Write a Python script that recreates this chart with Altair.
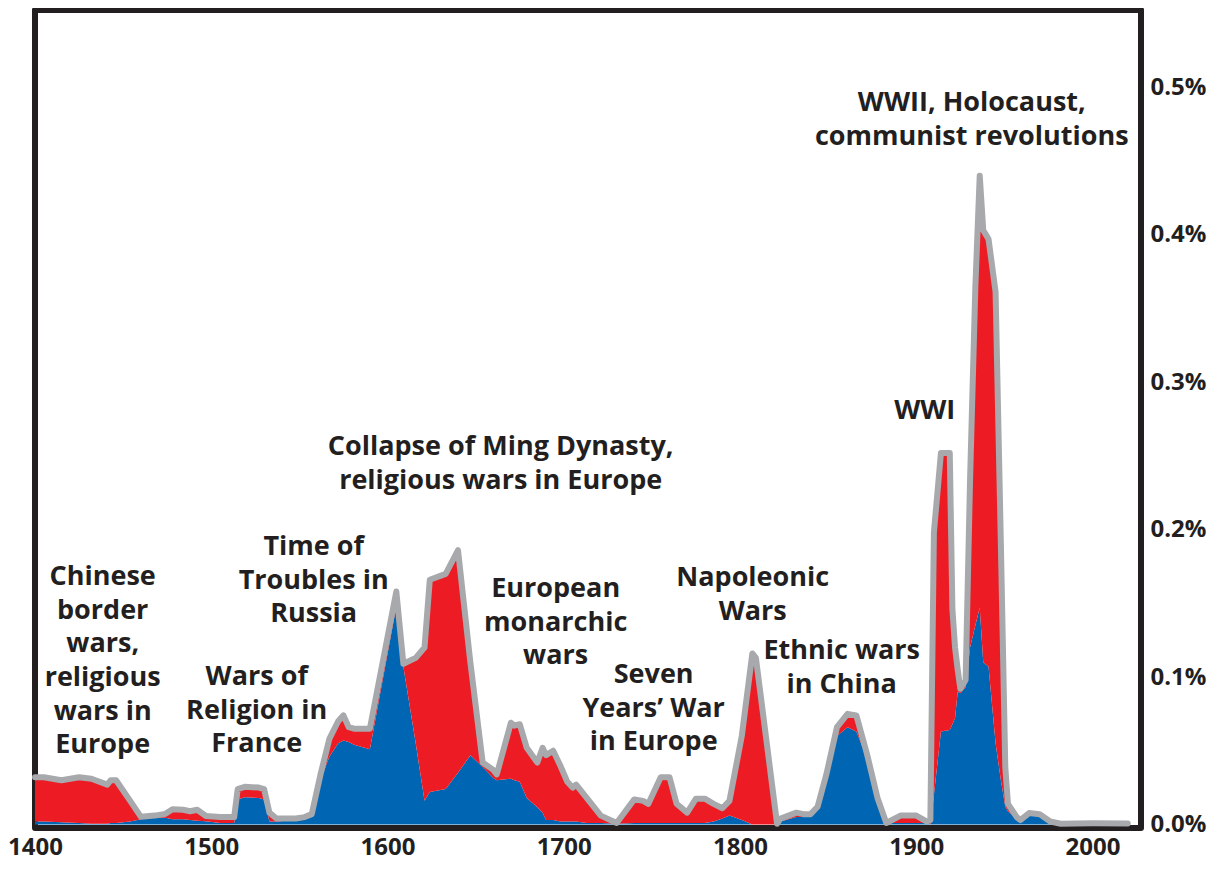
import altair as alt
import pandas as pd

# ---- data (share of world population killed, in %) ----
years = [1400, 1405, 1415, 1425, 1432, 1441, 1443, 1446, 1454, 1460, 1468, 1474,
         1478, 1484, 1488, 1492, 1497, 1505, 1513, 1515, 1519, 1527, 1530, 1533,
         1537, 1548, 1553, 1557, 1562, 1567, 1572, 1575, 1578, 1581, 1590, 1605,
         1609, 1616, 1621, 1624, 1633, 1640, 1647, 1654, 1660, 1662, 1670, 1672,
         1675, 1679, 1685, 1688, 1690, 1694, 1698, 1702, 1705, 1707, 1713, 1721,
         1730, 1740, 1745, 1748, 1755, 1760, 1764, 1770, 1775, 1780, 1785, 1790,
         1794, 1801, 1807, 1809, 1821, 1823, 1832, 1836, 1840, 1844, 1849, 1855,
         1861, 1866, 1872, 1878, 1883, 1891, 1900, 1906, 1908, 1910, 1914, 1919,
         1920.5, 1922, 1923.5, 1925, 1928, 1930.5, 1933.5, 1936, 1938, 1941, 1945,
         1948, 1950.5, 1952, 1957, 1959, 1964, 1970, 1976, 1982, 2000, 2020]

total_share = [0.032, 0.032, 0.030, 0.032, 0.031, 0.027, 0.030, 0.030, 0.016, 0.0053,
               0.006, 0.0072, 0.0103, 0.010, 0.009, 0.010, 0.0057, 0.005, 0.005, 0.024,
               0.0255, 0.025, 0.024, 0.008, 0.004, 0.004, 0.005, 0.007, 0.034, 0.058,
               0.070, 0.074, 0.066, 0.065, 0.065, 0.158, 0.109, 0.113, 0.120, 0.166,
               0.170, 0.186, 0.110, 0.042, 0.037, 0.034, 0.069, 0.067, 0.068, 0.052,
               0.042, 0.052, 0.047, 0.050, 0.040, 0.029, 0.025, 0.027, 0.018, 0.006,
               0.001, 0.017, 0.016, 0.014, 0.032, 0.032, 0.014, 0.008, 0.0175, 0.0175,
               0.014, 0.011, 0.016, 0.060, 0.116, 0.113, 0.0005, 0.004, 0.008, 0.007,
               0.007, 0.012, 0.034, 0.066, 0.075, 0.074, 0.048, 0.018, 0.001, 0.006,
               0.006, 0.002, 0.003, 0.198, 0.252, 0.252, 0.146, 0.120, 0.105, 0.092,
               0.098, 0.233, 0.364, 0.440, 0.403, 0.397, 0.361, 0.190, 0.039, 0.014,
               0.005, 0.003, 0.0077, 0.007, 0.002, 0.0005, 0.0008, 0.0007]

blue_share = [0.002, 0.002, 0.0015, 0.001, 0.0005, 0.0005, 0.001, 0.001, 0.002, 0.0035,
              0.0045, 0.0045, 0.0035, 0.0035, 0.003, 0.0025, 0.0022, 0.001, 0.001, 0.017,
              0.0185, 0.018, 0.017, 0.002, 0.002, 0.003, 0.004, 0.005, 0.030, 0.046,
              0.055, 0.057, 0.056, 0.054, 0.051, 0.148, 0.107, 0.055, 0.016, 0.022,
              0.024, 0.035, 0.047, 0.039, 0.0315, 0.030, 0.031, 0.030, 0.029, 0.018,
              0.0117, 0.008, 0.003, 0.003, 0.002, 0.002, 0.002, 0.002, 0.001, 0.001,
              0.0005, 0.001, 0.001, 0.001, 0.001, 0.001, 0.001, 0.001, 0.001, 0.001,
              0.002, 0.004, 0.006, 0.003, 0.0, 0.0, 0.0, 0.002, 0.005, 0.005,
              0.006, 0.011, 0.030, 0.060, 0.066, 0.063, 0.045, 0.016, 0.001, 0.001,
              0.001, 0.001, 0.0, 0.020, 0.063, 0.064, 0.068, 0.072, 0.090, 0.089,
              0.093, 0.120, 0.135, 0.147, 0.110, 0.107, 0.055, 0.030, 0.012, 0.009,
              0.004, 0.003, 0.0075, 0.0068, 0.002, 0.0005, 0.0008, 0.0007]

x_ticks = [1400, 1500, 1600, 1700, 1800, 1900, 2000]
y_ticks = [0.0, 0.1, 0.2, 0.3, 0.4, 0.5]

annotations = [
    ("Chinese\nborder\nwars,\nreligious\nwars in\nEurope", 1438.4, 0.1765),
    ("Wars of\nReligion in\nFrance", 1525.8, 0.1087),
    ("Time of\nTroubles in\nRussia", 1558.1, 0.1969),
    ("Collapse of Ming Dynasty,\nreligious wars in Europe", 1664.2, 0.2647),
    ("European\nmonarchic\nwars", 1695.4, 0.1684),
    ("Seven\nYears\u2019 War\nin Europe", 1751.0, 0.1101),
    ("Napoleonic\nWars", 1807.2, 0.1759),
    ("Ethnic wars\nin China", 1857.7, 0.1263),
    ("WWI", 1904.8, 0.2892),
    ("WWII, Holocaust,\ncommunist revolutions", 1931.5, 0.4981),
]

# ---- tables ----
rows = []
for yr, tot, b in zip(years, total_share, blue_share):
    rows.append({"year": yr, "series": "blue", "share": b, "ord": 0})
    rows.append({"year": yr, "series": "red", "share": max(tot - b, 0.0), "ord": 1})
stack_df = pd.DataFrame(rows)
total_df = pd.DataFrame({"year": years, "share": total_share})
ann_df = pd.DataFrame(annotations, columns=["label", "year", "share"])

INK = "#231F20"
FONT = "Open Sans"

x_enc = alt.X("year:Q",
              scale=alt.Scale(domain=[1400, 2027.5], nice=False, zero=False),
              axis=alt.Axis(values=x_ticks, format="d", title=None, labelPadding=7,
                            labelFlush=False, labelOverlap=False))
y_scale = alt.Scale(domain=[-0.0024, 0.5524], nice=False, zero=False)
y_axis = alt.Axis(values=y_ticks, orient="right", title=None, labelPadding=9,
                  labelFlush=False, labelOverlap=False,
                  labelExpr="format(datum.value, '.1f') + '%'")

areas = alt.Chart(stack_df).mark_area(interpolate="linear").encode(
    x=x_enc,
    y=alt.Y("share:Q", stack="zero", scale=y_scale, axis=y_axis),
    color=alt.Color("series:N",
                    scale=alt.Scale(domain=["blue", "red"], range=["#0066B3", "#ED1C24"]),
                    legend=None),
    order=alt.Order("ord:Q"),
)

outline = alt.Chart(total_df).mark_line(
    color="#A7A9AC", strokeWidth=6, strokeJoin="round", strokeCap="round"
).encode(
    x=x_enc,
    y=alt.Y("share:Q", scale=y_scale, axis=y_axis),
)

labels = alt.Chart(ann_df).mark_text(
    align="center", baseline="top", font=FONT, fontSize=27, fontWeight="bold",
    color=INK, lineBreak="\n", lineHeight=33.6
).encode(
    x=x_enc,
    y=alt.Y("share:Q", scale=y_scale, axis=y_axis),
    text="label:N",
)

chart = alt.layer(areas, outline, labels).properties(
    width=1106,
    height=818,
    autosize=alt.AutoSizeParams(type="none"),
    padding={"left": 27, "top": 2, "right": 70, "bottom": 33},
    background="white",
).configure_view(
    stroke=INK, strokeWidth=6, strokeJoin="round"
).configure_axis(
    labelFont=FONT, labelFontSize=24, labelFontWeight="bold", labelColor=INK,
    ticks=False, domain=False, grid=False
)

chart.save("out.html", embed_options={"renderer": "svg", "actions": False})
